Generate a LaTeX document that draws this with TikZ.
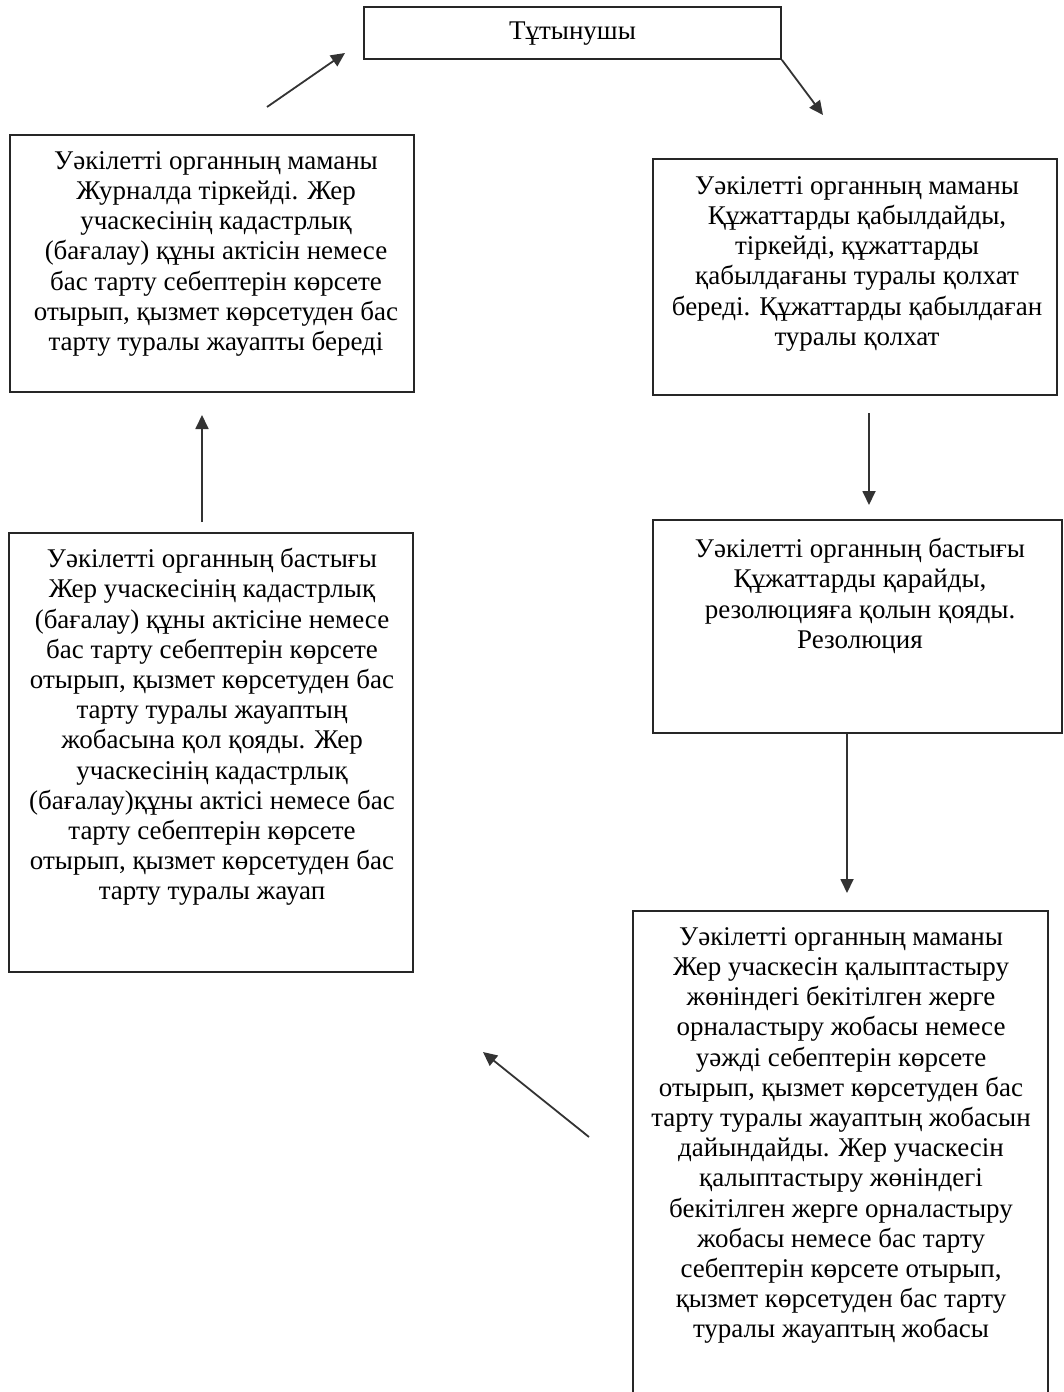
\documentclass[tikz,border=0pt]{standalone}
\usepackage{fontspec}
\setmainfont{Liberation Serif}
\usetikzlibrary{arrows.meta,calc}
\tikzset{
  box/.style={draw=black!85, line width=0.9pt, fill=white, inner sep=0pt},
  txt/.style={align=center, inner sep=0pt, font=\fontsize{13.5pt}{15.1pt}\selectfont, text=black},
  arr/.style={draw=black!80, line width=0.9pt, -{Triangle[length=7pt,width=6.5pt]}}
}
\begin{document}
\begin{tikzpicture}[x=0.5pt,y=-0.5pt]
\clip (0,0) rectangle (1064,1392);
\fill[white] (0,0) rectangle (1064,1392);
% boxes
\node[box, minimum width=208.5pt, minimum height=26pt] (top) at (572.5,33) {};
\node[txt] (topt) at (572.5,34) {Тұтынушы};
\node[box, minimum width=202pt, minimum height=128.5pt] (l1) at (212,263.5) {};
\node[box, minimum width=202pt, minimum height=118pt] (r1) at (855,277) {};
\node[box, minimum width=204.5pt, minimum height=106.5pt] (r2) at (857.5,626.5) {};
\node[box, minimum width=202pt, minimum height=219.5pt] (l2) at (211,752.5) {};
\node[box, minimum width=207.5pt, minimum height=250pt] (r3) at (840.5,1161) {};
% texts
\node[txt, anchor=north] (l1t) at (216,151) {Уәкілетті органның маманы\\Журналда тіркейді. Жер\\учаскесінің кадастрлық\\(бағалау) құны актісін немесе\\бас тарту себептерін көрсете\\отырып, қызмет көрсетуден бас\\тарту туралы жауапты береді};
\node[txt, anchor=north] (r1t) at (857,176) {Уәкілетті органның маманы\\Құжаттарды қабылдайды,\\тіркейді, құжаттарды\\қабылдағаны туралы қолхат\\береді. Құжаттарды қабылдаған\\туралы қолхат};
\node[txt, anchor=north] (r2t) at (860,538) {Уәкілетті органның бастығы\\Құжаттарды қарайды,\\резолюцияға қолын қояды.\\Резолюция};
\node[txt, anchor=north] (l2t) at (212,548) {Уәкілетті органның бастығы\\Жер учаскесінің кадастрлық\\(бағалау) құны актісіне немесе\\бас тарту себептерін көрсете\\отырып, қызмет көрсетуден бас\\тарту туралы жауаптың\\жобасына қол қояды. Жер\\учаскесінің кадастрлық\\(бағалау)құны актісі немесе бас\\тарту себептерін көрсете\\отырып, қызмет көрсетуден бас\\тарту туралы жауап};
\node[txt, anchor=north] (r3t) at (841,927) {Уәкілетті органның маманы\\Жер учаскесін қалыптастыру\\жөніндегі бекітілген жерге\\орналастыру жобасы немесе\\уәжді себептерін көрсете\\отырып, қызмет көрсетуден бас\\тарту туралы жауаптың жобасын\\дайындайды. Жер учаскесін\\қалыптастыру жөніндегі\\бекітілген жерге орналастыру\\жобасы немесе бас тарту\\себептерін көрсете отырып,\\қызмет көрсетуден бас тарту\\туралы жауаптың жобасы};
% arrow end points
\coordinate (a1e) at (823,115);
\coordinate (a2s) at (869,413);
\coordinate (a2e) at (869,505);
\coordinate (a3e) at (847,893);
\coordinate (a4s) at (589,1137);
\coordinate (a4e) at (483,1052);
\coordinate (a5s) at (202,522);
\coordinate (a5e) at (202,415);
\coordinate (a6s) at (267,107);
\coordinate (a6e) at (345,53);
% connectors
\draw[arr] (top.south east) -- (a1e);
\draw[arr] (a2s) -- (a2e);
\draw[arr] (r2.south -| a3e) -- (a3e);
\draw[arr] (a4s) -- (a4e);
\draw[arr] (a5s) -- (a5e);
\draw[arr] (a6s) -- (a6e);
\end{tikzpicture}
\end{document}
